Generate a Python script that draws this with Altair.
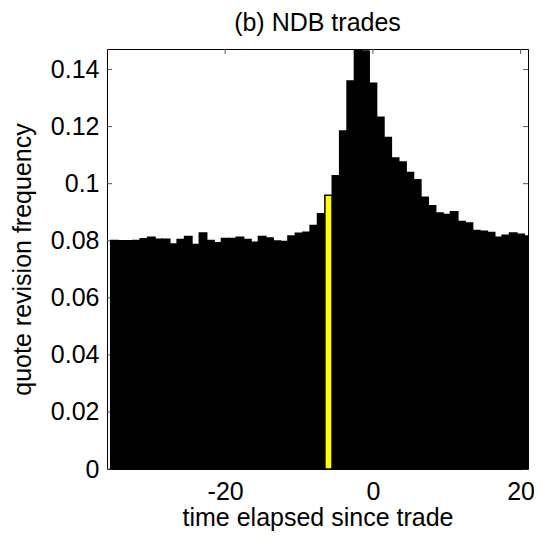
import altair as alt
import pandas as pd

# time offsets (bin centres) and quote revision frequency per bin
times = list(range(-35, 22))
freq = [
    0.0801, 0.0800, 0.0800, 0.0801, 0.0807, 0.0812, 0.0805, 0.0805, 0.0789, 0.0804,
    0.0815, 0.0787, 0.0827, 0.0801, 0.0793, 0.0808, 0.0808, 0.0812, 0.0804, 0.0795,
    0.0815, 0.0810, 0.0799, 0.0797, 0.0817, 0.0826, 0.0830, 0.0853, 0.0895, 0.0959,
    0.1028, 0.1185, 0.1360, 0.1500, 0.1465, 0.1352, 0.1233, 0.1162, 0.1090, 0.1076,
    0.1039, 0.1014, 0.0952, 0.0923, 0.0897, 0.0892, 0.0902, 0.0867, 0.0862, 0.0836,
    0.0833, 0.0829, 0.0812, 0.0819, 0.0827, 0.0823, 0.0817,
]
highlight_time = -6
title_text = "(b) NDB trades"

x_ticks = [-20, 0, 20]
y_ticks = [0, 0.02, 0.04, 0.06, 0.08, 0.1, 0.12, 0.14]

W, H = 421, 420
FONT = "Liberation Sans"
FS = 25

df = pd.DataFrame({"t": times, "v": freq})
df_xt = pd.DataFrame({"t": x_ticks})
df_yt = pd.DataFrame({"v": y_ticks})

xscale = alt.Scale(domain=[-36, 21], nice=False, zero=False)
yscale = alt.Scale(domain=[0, 0.1472], nice=False, zero=False)

bars = (
    alt.Chart(df)
    .transform_calculate(t0="datum.t - 0.5", t1="datum.t + 0.5")
    .mark_rect(clip=True, strokeWidth=1.5)
    .encode(
        x=alt.X(
            "t0:Q",
            scale=xscale,
            title="time elapsed since trade",
            axis=alt.Axis(values=x_ticks, ticks=False, domain=False, grid=False,
                          labelPadding=10, titlePadding=1,
                          labelExpr="'' + datum.value"),
        ),
        x2="t1:Q",
        y=alt.Y(
            "v:Q",
            scale=yscale,
            title="quote revision frequency",
            axis=alt.Axis(values=y_ticks, ticks=False, domain=False, grid=False,
                          labelPadding=8, titlePadding=15, format="~g"),
        ),
        y2=alt.datum(0),
        fill=alt.condition(f"datum.t == {highlight_time}", alt.value("#FFFF00"), alt.value("black")),
        stroke=alt.value("black"),
    )
)

tick_color = "#555555"
top_ticks = alt.Chart(df_xt).mark_rule(color=tick_color, strokeWidth=1).encode(
    x=alt.X("t:Q", scale=xscale), y=alt.value(0), y2=alt.value(5)
)
bot_ticks = alt.Chart(df_xt).mark_rule(color=tick_color, strokeWidth=1).encode(
    x=alt.X("t:Q", scale=xscale), y=alt.value(H - 5), y2=alt.value(H)
)
left_ticks = alt.Chart(df_yt).mark_rule(color=tick_color, strokeWidth=1).encode(
    y=alt.Y("v:Q", scale=yscale), x=alt.value(0), x2=alt.value(5)
)
right_ticks = alt.Chart(df_yt).mark_rule(color=tick_color, strokeWidth=1).encode(
    y=alt.Y("v:Q", scale=yscale), x=alt.value(W - 5), x2=alt.value(W)
)

chart = (
    alt.layer(top_ticks, bot_ticks, left_ticks, right_ticks, bars)
    .properties(
        width=W,
        height=H,
        title=alt.TitleParams(title_text, fontSize=FS, font=FONT, fontWeight="normal",
                              color="black", anchor="middle", offset=13),
        autosize=alt.AutoSizeParams(type="none"),
        padding={"left": 99, "top": 41, "right": 6, "bottom": 66},
    )
    .configure_view(stroke="black", strokeWidth=1)
    .configure_axis(
        labelFont=FONT, titleFont=FONT, labelFontSize=FS, titleFontSize=FS,
        labelColor="black", titleColor="black", titleFontWeight="normal",
    )
)

chart.save("out.html", embed_options={"renderer": "svg", "actions": False})
